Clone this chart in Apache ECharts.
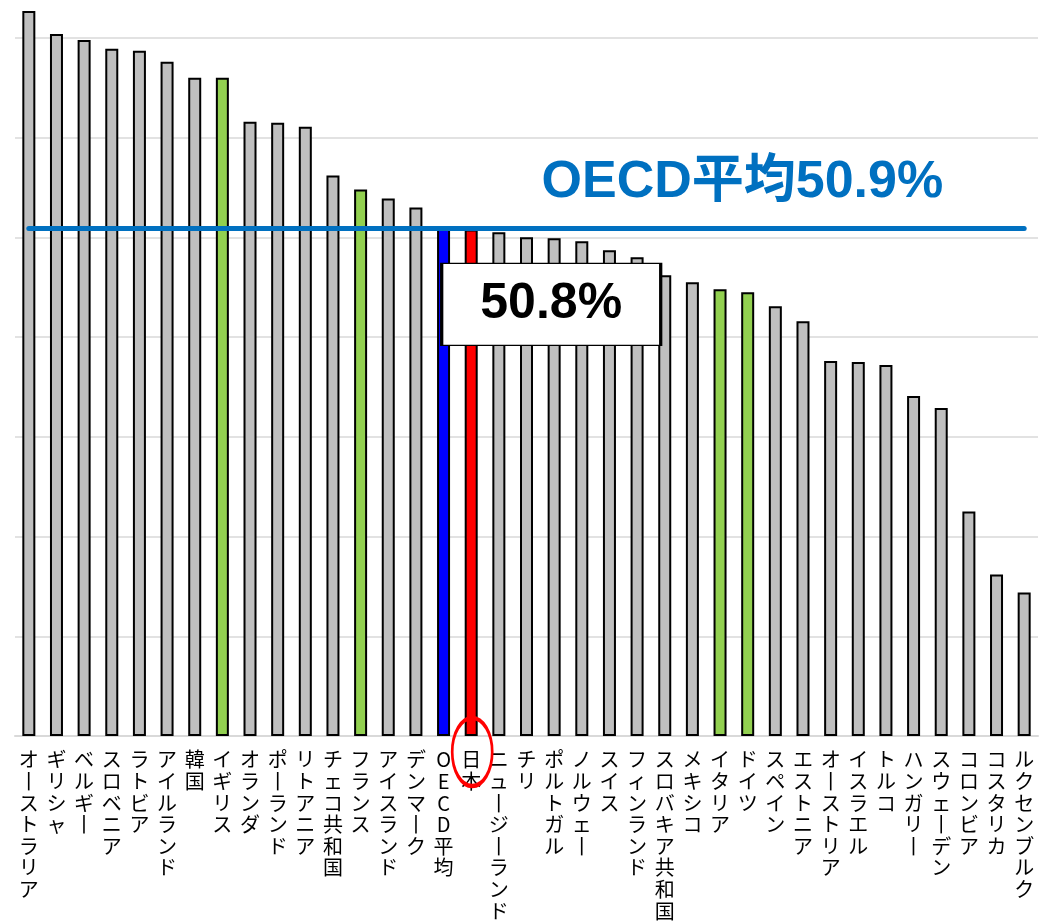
<!DOCTYPE html>
<html>
<head>
<meta charset="utf-8">
<script src="https://cdn.jsdelivr.net/npm/echarts@6/dist/echarts.min.js"></script>
<style>
html,body{margin:0;padding:0;background:#fff;}
#chart{width:1042px;height:923px;}
</style>
</head>
<body>
<div id="chart"></div>
<script>
const categories = ['オーストラリア','ギリシャ','ベルギー','スロベニア','ラトビア','アイルランド','韓国','イギリス','オランダ','ポーランド','リトアニア','チェコ共和国','フランス','アイスランド','デンマーク','OECD平均','日本','ニュージーランド','チリ','ポルトガル','ノルウェー','スイス','フィンランド','スロバキア共和国','メキシコ','イタリア','ドイツ','スペイン','エストニア','オーストリア','イスラエル','トルコ','ハンガリー','スウェーデン','コロンビア','コスタリカ','ルクセンブルク'];
const values = [72.7,70.4,69.8,68.9,68.7,67.6,66.0,66.0,61.6,61.5,61.1,56.2,54.8,53.9,53.0,50.9,50.8,50.5,50.0,49.9,49.6,48.7,48.0,46.2,45.5,44.8,44.5,43.1,41.6,37.6,37.5,37.2,34.1,32.9,22.5,16.2,14.4];
const greenCountries = ['イギリス','フランス','イタリア','ドイツ'];
const averageName = 'OECD平均';
const averageValue = 50.9;
const japanName = '日本';
const yMin = 0;
const yMax = 73.8;
const yStep = 10;

const japanValue = values[categories.indexOf(japanName)];

function barColor(name){
  if (name === averageName) return '#0000FF';
  if (name === japanName) return '#FF0000';
  if (greenCountries.indexOf(name) >= 0) return '#92D050';
  return '#BFBFBF';
}

const chart = echarts.init(document.getElementById('chart'), null, {renderer:'canvas'});
chart.setOption({
  backgroundColor:'#ffffff',
  animation:false,
  grid:{left:15, right:4, top:0, bottom:187, containLabel:false},
  xAxis:{
    type:'category',
    data:categories,
    axisLine:{show:true, lineStyle:{color:'#D9D9D9', width:2}},
    axisTick:{show:false},
    axisLabel:{
      interval:0,
      margin:13,
      color:'#000',
      fontFamily:"'Noto Sans CJK JP', sans-serif",
      fontSize:20,
      lineHeight:21.6,
      formatter:function(v){ return v.split('').map(function(c){ return c === 'ー' ? '丨' : c; }).join('\n'); }
    }
  },
  yAxis:{
    type:'value',
    min:yMin,
    max:yMax,
    interval:yStep,
    axisLabel:{show:false},
    axisLine:{show:false},
    axisTick:{show:false},
    splitLine:{show:true, showMinLine:false, showMaxLine:false, lineStyle:{color:'#D9D9D9', width:1.5}}
  },
  series:[{
    type:'bar',
    barWidth:13,
    clip:false,
    data:values.map(function(v,i){
      return {value:v, itemStyle:{color:barColor(categories[i]), borderColor:'#000', borderWidth:2}};
    }),
    markLine:{
      silent:true,
      symbol:['none','none'],
      z:6,
      lineStyle:{color:'#0070C0', width:5, type:'solid', cap:'round'},
      label:{
        show:true,
        position:'insideEndTop',
        distance:[81,20],
        formatter: averageName + averageValue.toFixed(1) + '%',
        color:'#0070C0',
        fontSize:52,
        fontWeight:'bold',
        lineHeight:52,
        fontFamily:"'Liberation Sans', 'Noto Sans CJK JP', sans-serif"
      },
      data:[[{coord:[0, averageValue]},{coord:[categories.length-1, averageValue]}]]
    },
    markPoint:{
      silent:true,
      z:7,
      data:[
        {
          coord:[japanName, japanValue],
          symbol:'rect',
          symbolSize:[219,82],
          symbolOffset:[80,75],
          itemStyle:{color:'#ffffff', borderColor:'#000', borderWidth:2},
          label:{
            show:true,
            position:'inside',
            formatter: japanValue.toFixed(1) + '%',
            color:'#000',
            fontSize:50,
            fontWeight:'bold',
            fontFamily:"'Liberation Sans', sans-serif"
          }
        },
        {
          coord:[japanName, 0],
          symbol:'circle',
          symbolSize:[40,68],
          symbolOffset:[1,16],
          itemStyle:{color:'rgba(0,0,0,0)', borderColor:'#FF0000', borderWidth:3.5},
          label:{show:false}
        }
      ]
    }
  }]
});
</script>
</body>
</html>
